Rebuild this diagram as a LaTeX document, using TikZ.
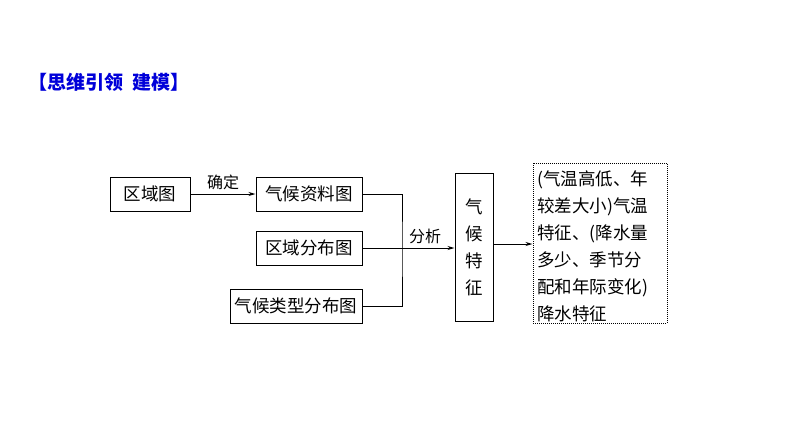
\documentclass[tikz,border=0pt]{standalone}
\usepackage{fontspec}
\newfontfamily\cjk{Noto Sans CJK SC}
\usetikzlibrary{arrows.meta}
\begin{document}
\begin{tikzpicture}[x=1pt,y=-1pt,
  bx/.style={draw,line width=1pt,minimum height=34pt,inner sep=0pt,font=\cjk\fontsize{17.5}{19}\selectfont},
  lbl/.style={font=\cjk\fontsize{16}{17}\selectfont},
  arr/.style={-{Stealth[length=7pt,width=4pt]},line width=1pt}]
\useasboundingbox (0,0) rectangle (794,447);
\node[anchor=west,text=blue!85!black,font=\cjk\bfseries\fontsize{19}{21}\selectfont,inner sep=0pt] (t) at (28,82) {【思维引领\hspace{0.5em}建模】};
\node[bx,minimum width=80pt] (a) at (150,194) {区域图};
\node[bx,minimum width=106pt] (b) at (309,194) {气候资料图};
\node[bx,minimum width=106pt] (c) at (309,248) {区域分布图};
\node[bx,minimum width=132pt] (d) at (296,306) {气候类型分布图};
\node[bx,minimum width=38pt,minimum height=148pt,align=center,font=\cjk\fontsize{17.5}{27}\selectfont] (e) at (474,247) {气\\候\\特\\征};
\node[draw,line width=1pt,densely dotted,minimum width=134pt,minimum height=160pt,inner sep=0pt] (f) at (600,243) {};
\node[anchor=north west,align=left,font=\cjk\fontsize{17.5}{27}\selectfont,inner sep=0pt] (ft) at (537,171) {(气温高低、年\\较差大小)气温\\特征、(降水量\\多少、季节分\\配和年际变化)\\降水特征};
\draw[arr] (a) -- node[lbl,above] {确定} (b);
\coordinate (j) at (402,248);
\draw[line width=1pt] (b.east) -| (j) |- (d.east);
\draw[arr] (c.east) -- node[lbl,above,pos=0.68] {分析} (c.east -| e.west);
\draw[arr] (e.east |- 0,244) -- (f.west |- 0,244);
\end{tikzpicture}
\end{document}
